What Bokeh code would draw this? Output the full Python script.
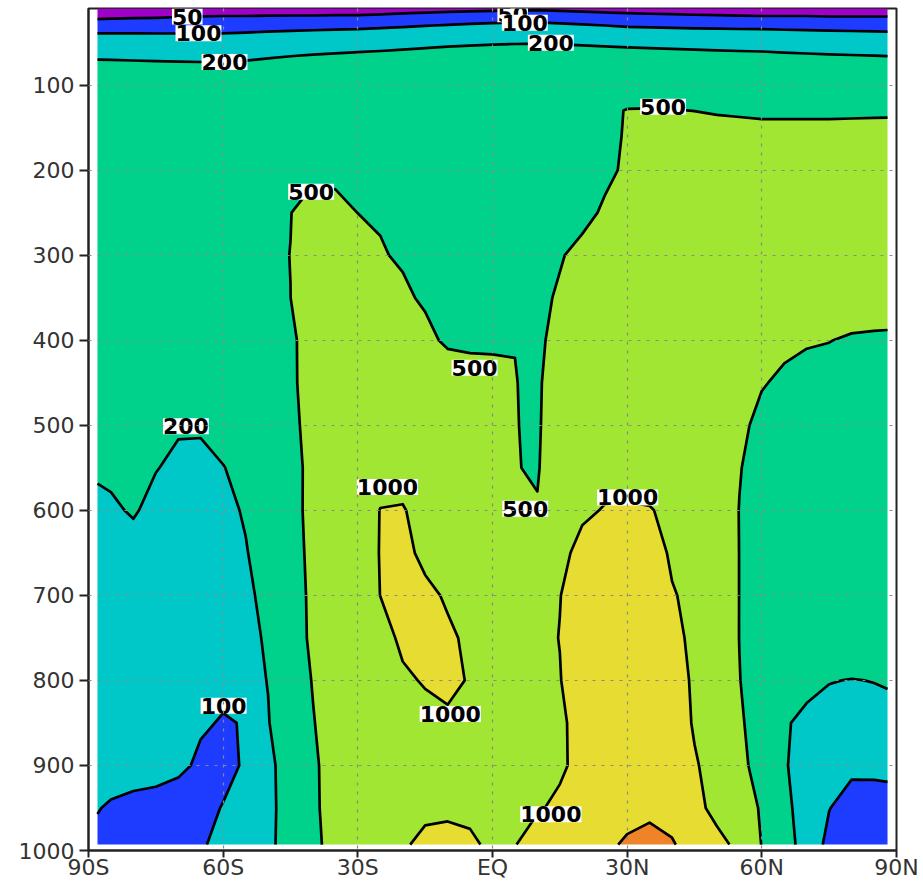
import numpy as np
from bokeh.plotting import figure
from bokeh.models import Range1d, FixedTicker
from bokeh.core.properties import value
from bokeh.embed import file_html
from bokeh.resources import INLINE

# ---- grid coordinates (latitude in degrees, pressure in hPa) ----
LATS = [-88, -85, -80, -75, -70, -65, -60, -55, -50, -45, -40, -35, -30, -25, -20,
        -15, -10, -5, 0, 5, 10, 15, 20, 25, 30, 35, 40, 45, 50, 55, 60, 65, 70, 75,
        80, 85, 88]
PRESSURES = [10, 20, 30, 40, 50, 60, 80, 100, 130, 160, 200, 250, 300, 350, 400,
             450, 500, 550, 600, 650, 700, 750, 800, 850, 900, 950, 993]

# ---- field values, one list per pressure level (columns follow LATS) ----
P010 = [35, 35, 35, 35, 35, 35, 35, 35, 35, 36, 36, 36, 36, 37, 38, 39, 40, 41, 42, 43, 44, 42, 40, 39, 38, 37, 37, 36, 36, 35, 35, 35, 35, 34, 34, 34, 34]
P020 = [45, 46, 47, 48, 50, 51, 52, 52, 53, 53, 53, 54, 54, 56, 59, 62, 65, 68, 70, 73, 75, 71, 67, 63, 60, 58, 57, 55, 54, 53, 52, 52, 52, 51, 51, 51, 51]
P030 = [65, 66, 68, 69, 70, 71, 72, 74, 77, 79, 81, 83, 85, 89, 93, 98, 103, 108, 112, 114, 115, 110, 105, 100, 95, 93, 91, 89, 88, 86, 85, 83, 82, 81, 80, 79, 78]
P040 = [103, 103, 103, 102, 102, 102, 102, 105, 109, 112, 115, 118, 120, 125, 130, 136, 141, 146, 150, 153, 155, 147, 140, 132, 125, 124, 123, 122, 121, 120, 120, 117, 115, 113, 111, 109, 108]
P050 = [130, 129, 128, 127, 126, 125, 125, 130, 138, 145, 150, 155, 160, 165, 170, 176, 181, 186, 190, 193, 195, 191, 187, 183, 180, 176, 172, 168, 165, 162, 160, 157, 153, 149, 146, 142, 140]
P060 = [160, 158, 156, 154, 152, 151, 150, 158, 168, 177, 184, 190, 195, 200, 206, 213, 220, 225, 230, 233, 235, 231, 226, 220, 215, 212, 209, 206, 203, 200, 198, 193, 189, 185, 181, 177, 175]
P080 = [240, 238, 235, 232, 229, 227, 225, 232, 243, 252, 259, 265, 270, 275, 281, 287, 292, 296, 300, 303, 305, 301, 298, 294, 290, 287, 284, 280, 276, 273, 270, 267, 265, 263, 262, 261, 260]
P100 = [300, 298, 296, 294, 292, 291, 290, 295, 305, 313, 320, 325, 330, 335, 340, 346, 352, 356, 360, 363, 365, 361, 357, 353, 350, 347, 344, 340, 336, 333, 330, 328, 326, 324, 322, 321, 320]
P130 = [330, 330, 328, 326, 324, 322, 320, 325, 335, 345, 355, 360, 365, 370, 375, 380, 385, 390, 395, 398, 400, 405, 420, 450, 510, 515, 508, 498, 485, 478, 470, 470, 470, 470, 472, 474, 475]
P160 = [360, 360, 358, 356, 354, 352, 350, 358, 372, 390, 405, 410, 410, 410, 410, 412, 415, 418, 420, 422, 425, 428, 432, 440, 520, 580, 595, 590, 575, 565, 560, 560, 560, 560, 562, 564, 565]
P200 = [390, 390, 388, 385, 382, 380, 380, 392, 410, 435, 455, 450, 440, 432, 428, 428, 430, 432, 435, 437, 440, 442, 445, 450, 536, 620, 640, 635, 620, 610, 605, 600, 600, 600, 600, 600, 600]
P250 = [410, 410, 408, 405, 402, 400, 402, 420, 450, 496, 580, 560, 498, 470, 455, 448, 445, 445, 445, 447, 450, 445, 430, 533, 640, 680, 690, 680, 665, 650, 640, 630, 625, 620, 615, 612, 610]
P300 = [425, 425, 423, 420, 417, 415, 418, 435, 465, 502, 640, 650, 620, 525, 460, 452, 450, 450, 452, 455, 460, 480, 570, 680, 720, 740, 740, 730, 715, 700, 690, 675, 660, 650, 640, 635, 630]
P350 = [435, 435, 433, 430, 427, 425, 428, 445, 475, 499, 700, 720, 700, 640, 560, 450, 445, 445, 447, 452, 440, 530, 690, 740, 770, 790, 790, 780, 760, 740, 720, 690, 660, 640, 615, 600, 595]
P400 = [440, 440, 437, 433, 430, 428, 430, 445, 470, 480, 550, 700, 740, 730, 700, 600, 434, 435, 470, 490, 420, 640, 760, 800, 830, 850, 850, 840, 820, 790, 750, 620, 520, 505, 478, 472, 470]
P450 = [445, 445, 442, 438, 434, 432, 433, 445, 465, 485, 535, 680, 760, 800, 820, 800, 760, 650, 560, 514, 400, 900, 900, 920, 900, 900, 890, 870, 830, 760, 540, 400, 420, 420, 420, 420, 420]
P500 = [320, 310, 290, 250, 210, 215, 260, 330, 400, 475, 535, 640, 740, 820, 860, 850, 840, 800, 700, 520, 410, 980, 960, 940, 920, 910, 900, 880, 820, 640, 330, 320, 320, 320, 320, 320, 320]
P550 = [212, 220, 225, 204, 180, 165, 195, 250, 340, 470, 525, 620, 740, 860, 940, 900, 890, 860, 780, 520, 450, 960, 920, 880, 880, 870, 860, 850, 780, 520, 330, 320, 320, 320, 320, 320, 320]
P600 = [180, 185, 210, 170, 150, 140, 160, 215, 320, 465, 530, 640, 800, 1008, 1010, 945, 930, 900, 860, 740, 540, 780, 940, 1020, 1030, 1015, 940, 910, 820, 490, 330, 320, 320, 320, 320, 320, 320]
P650 = [170, 165, 160, 150, 135, 125, 140, 190, 280, 460, 525, 660, 850, 1010, 1150, 870, 850, 840, 820, 800, 800, 900, 1110, 1250, 1300, 1200, 940, 900, 820, 495, 320, 310, 310, 310, 310, 310, 310]
P700 = [165, 160, 155, 145, 130, 120, 130, 157, 260, 455, 520, 660, 860, 1002, 1150, 1120, 940, 880, 840, 820, 850, 990, 1200, 1350, 1400, 1350, 1030, 900, 820, 495, 320, 310, 310, 310, 310, 310, 310]
P750 = [165, 160, 150, 140, 125, 115, 120, 150, 222, 420, 530, 660, 820, 900, 1050, 1150, 1080, 910, 850, 830, 880, 1010, 1250, 1400, 1450, 1400, 1150, 880, 800, 495, 310, 300, 300, 300, 300, 300, 300]
P800 = [160, 155, 145, 135, 120, 110, 110, 140, 205, 380, 510, 640, 780, 860, 960, 1020, 1080, 975, 860, 840, 880, 980, 1300, 1450, 1500, 1450, 1250, 920, 800, 510, 300, 280, 240, 205, 196, 203, 210]
P850 = [155, 150, 140, 130, 115, 105, 97, 102, 190, 340, 490, 600, 740, 820, 880, 920, 940, 930, 880, 860, 890, 900, 1210, 1450, 1550, 1500, 1300, 950, 800, 540, 360, 215, 165, 150, 150, 155, 160]
P900 = [150, 140, 130, 120, 110, 92, 75, 110, 170, 260, 470, 580, 720, 800, 860, 900, 930, 920, 880, 860, 880, 920, 1150, 1450, 1600, 1550, 1400, 1050, 800, 580, 380, 210, 150, 120, 115, 118, 120]
P950 = [104, 90, 80, 80, 75, 75, 104, 150, 160, 270, 470, 570, 700, 790, 860, 910, 930, 920, 880, 880, 950, 1100, 1350, 1550, 1750, 1800, 1650, 1250, 750, 600, 480, 250, 110, 102, 70, 65, 68]
P993 = [80, 75, 72, 72, 75, 90, 126, 160, 185, 230, 460, 560, 700, 800, 950, 1100, 1120, 1060, 930, 980, 1250, 1450, 1600, 1850, 2100, 2300, 2080, 1600, 1250, 800, 490, 250, 150, 80, 60, 55, 60]

ROWS = [P010, P020, P030, P040, P050, P060, P080, P100, P130, P160, P200, P250,
        P300, P350, P400, P450, P500, P550, P600, P650, P700, P750, P800, P850,
        P900, P950, P993]

# ---- contour levels and shading ----
LEVELS = [0, 50, 100, 200, 500, 1000, 2000, 3000]
FILL_COLORS = ["#a000c8", "#1e3cff", "#00c8c8", "#00d28c", "#a0e632", "#e6dc32", "#f08228"]

# ---- axes ----
X_TICKS = [-90, -60, -30, 0, 30, 60, 90]
X_TICK_LABELS = ["90S", "60S", "30S", "EQ", "30N", "60N", "90N"]
Y_TICKS = [100, 200, 300, 400, 500, 600, 700, 800, 900, 1000]
P_TOP = 10
P_AXIS = 1000

# ---- contour labels ----
LABEL_TEXT = ["50", "100", "200", "50", "100", "200", "500", "500", "500", "200",
              "1000", "500", "1000", "100", "1000", "1000"]
LABEL_LAT = [-68.0, -65.5, -59.7, 4.5, 7.2, 13.0, 38.0, -40.4, -4.0, -68.3,
             -23.4, 7.3, 30.1, -59.9, -9.4, 13.0]
LABEL_P = [19.5, 39.0, 73.0, 16.8, 26.7, 50.2, 125.6, 225.4, 432.3, 501.2,
           572.5, 598.1, 584.9, 829.8, 839.6, 957.5]

Z = np.array(ROWS, dtype=float)

p = figure(width=923, height=882,
           x_range=Range1d(-90, 90), y_range=Range1d(P_AXIS, P_TOP),
           output_backend="svg", toolbar_location=None,
           min_border_left=88, min_border_right=27,
           min_border_top=8, min_border_bottom=30)
p.background_fill_color = "white"
p.border_fill_color = "white"
p.outline_line_color = "#222222"
p.outline_line_width = 2

p.contour(x=LATS, y=PRESSURES, z=Z, levels=LEVELS,
          fill_color=FILL_COLORS, line_color="black", line_width=2.7,
          line_join="round")

p.text(x=LABEL_LAT, y=LABEL_P, text=LABEL_TEXT,
       text_font=value("DejaVu Sans"), text_font_style="bold",
       text_font_size="22px", text_align="center", text_baseline="middle",
       text_color="black", background_fill_color="white", padding=0)

for g, ticks in ((p.xgrid, X_TICKS), (p.ygrid, Y_TICKS[:-1])):
    g.ticker = FixedTicker(ticks=ticks)
    g.grid_line_color = "#8a8a8a"
    g.grid_line_width = 1.2
    g.grid_line_dash = "3 6"
    g.level = "overlay"

ax = p.xaxis[0]
ax.ticker = FixedTicker(ticks=X_TICKS)
ax.major_label_overrides = {t: s for t, s in zip(X_TICKS, X_TICK_LABELS)}
ax.major_tick_out = 7
ax.major_label_standoff = -3

ay = p.yaxis[0]
ay.ticker = FixedTicker(ticks=Y_TICKS)
ay.major_tick_out = 9
ay.major_label_standoff = 5

for a in (ax, ay):
    a.axis_line_color = "#222222"
    a.axis_line_width = 2
    a.major_tick_in = 0
    a.major_tick_line_color = "#222222"
    a.major_tick_line_width = 2
    a.minor_tick_line_color = None
    a.major_label_text_font = "DejaVu Sans"
    a.major_label_text_font_size = "22px"
    a.major_label_text_color = "#333333"

open("out.html", "w").write(file_html(p, INLINE))
